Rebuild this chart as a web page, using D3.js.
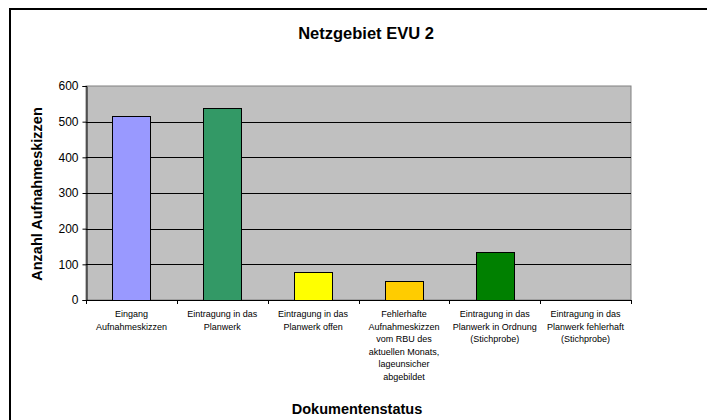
<!DOCTYPE html>
<html><head><meta charset="utf-8">
<script src="https://cdn.jsdelivr.net/npm/d3@7"></script>
<style>body{margin:0;background:#fff}svg{display:block;font-family:"Liberation Sans",Arial,sans-serif}</style>
</head><body><svg id="c" width="707" height="420"></svg>
<script>
const categories = ["Eingang Aufnahmeskizzen","Eintragung in das Planwerk","Eintragung in das Planwerk offen","Fehlerhafte Aufnahmeskizzen vom RBU des aktuellen Monats, lageunsicher abgebildet","Eintragung in das Planwerk in Ordnung (Stichprobe)","Eintragung in das Planwerk fehlerhaft (Stichprobe)"];
const categoryLines = [["Eingang","Aufnahmeskizzen"],["Eintragung in das","Planwerk"],["Eintragung in das","Planwerk offen"],["Fehlerhafte","Aufnahmeskizzen","vom RBU des","aktuellen Monats,","lageunsicher","abgebildet"],["Eintragung in das","Planwerk in Ordnung","(Stichprobe)"],["Eintragung in das","Planwerk fehlerhaft","(Stichprobe)"]];
const values = [517, 538, 79, 54, 135, 0];
const barColors = ["#9999FF","#339966","#FFFF00","#FFCC00","#008000","#FF6600"];
const yTicks = [0,100,200,300,400,500,600];
const title = "Netzgebiet EVU 2";
const yTitle = "Anzahl Aufnahmeskizzen";
const xTitle = "Dokumentenstatus";

const svg = d3.select("#c");
const L = 86, R = 631, T = 86, B = 300;

// chart area border (cropped)
svg.append("rect").attr("x",10).attr("y",9).attr("width",800).attr("height",500)
  .attr("fill","#fff").attr("stroke","#000").attr("stroke-width",2);

const y = d3.scaleLinear().domain([0,600]).range([B,T]);
const xCat = d3.scaleBand().domain(categories).range([L,R]).padding(0);
const x = d3.scaleBand().domain(categories).range([L,R]).paddingInner(0.58).paddingOuter(0.29);

svg.append("rect").attr("x",L).attr("y",T).attr("width",R-L).attr("height",B-T)
  .attr("fill","#C0C0C0").attr("stroke","#808080").attr("stroke-width",1);

// gridlines
svg.append("g").selectAll("line").data(yTicks.filter(d=>d>0 && d<600)).join("line")
  .attr("x1",L).attr("x2",R).attr("y1",d=>Math.round(y(d))+0.5).attr("y2",d=>Math.round(y(d))+0.5)
  .attr("stroke","#000").attr("stroke-width",1);

// bars
svg.append("g").selectAll("rect").data(values).join("rect")
  .attr("x",(d,i)=>Math.round(x(categories[i]))+0.5)
  .attr("y",d=>Math.round(y(d))+0.5)
  .attr("width",Math.round(x.bandwidth()))
  .attr("height",d=>Math.max(0,Math.round(B-y(d))))
  .attr("fill",(d,i)=>barColors[i]).attr("stroke",d=>d>0?"#000":"none").attr("stroke-width",1);

// y axis
const ya = svg.append("g").attr("transform",`translate(${L+0.5},0)`)
  .call(d3.axisLeft(y).tickValues(yTicks).tickSize(4).tickPadding(4).tickFormat(d3.format("d")));
ya.select(".domain").attr("stroke","#000");
ya.selectAll(".tick line").attr("stroke","#000");
ya.selectAll("text").attr("font-size","12px").attr("fill","#000").attr("font-family","Liberation Sans, Arial, sans-serif");

// x axis
svg.append("line").attr("x1",L).attr("x2",R).attr("y1",B+0.5).attr("y2",B+0.5).attr("stroke","#000");
const bounds = categories.map(c=>xCat(c)).concat([R]);
svg.append("g").selectAll("line").data(bounds).join("line")
  .attr("x1",d=>Math.round(d)+0.5).attr("x2",d=>Math.round(d)+0.5).attr("y1",B).attr("y2",B+4)
  .attr("stroke","#000");

const lab = svg.append("g").attr("font-size","9px").attr("fill","#000").attr("text-anchor","middle");
categories.forEach((c,i)=>{
  const t = lab.append("text").attr("x",xCat(c)+xCat.bandwidth()/2).attr("y",317);
  categoryLines[i].forEach((ln,j)=>{
    t.append("tspan").attr("x",xCat(c)+xCat.bandwidth()/2).attr("dy",j===0?0:12.6).text(ln);
  });
});

// titles
svg.append("text").attr("x",366).attr("y",39).attr("text-anchor","middle")
  .attr("font-size","16.5px").attr("font-weight","bold").text(title);
svg.append("text").attr("transform",`translate(42,${(T+B)/2+1}) rotate(-90)`).attr("text-anchor","middle")
  .attr("font-size","14.5px").attr("font-weight","bold").text(yTitle);
svg.append("text").attr("x",357).attr("y",414).attr("text-anchor","middle")
  .attr("font-size","14.5px").attr("font-weight","bold").text(xTitle);
</script></body></html>
